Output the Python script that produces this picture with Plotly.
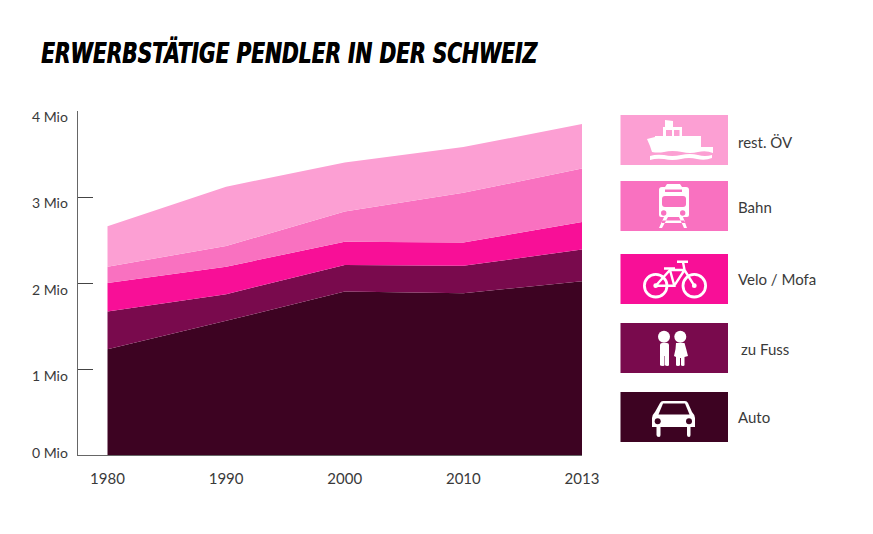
import plotly.graph_objects as go

years = ["1980", "1990", "2000", "2010", "2013"]
auto = [1.23, 1.56, 1.90, 1.88, 2.02]
zu_fuss = [0.44, 0.31, 0.31, 0.32, 0.37]
velo = [0.33, 0.32, 0.27, 0.27, 0.32]
bahn = [0.19, 0.24, 0.35, 0.58, 0.62]
rest_oev = [0.47, 0.69, 0.57, 0.53, 0.52]
tick_vals = [0, 1, 2, 3, 4]
tick_text = ["0 Mio", "1 Mio", "2 Mio", "3 Mio", "4 Mio"]
series_names = ["Auto", "zu Fuss", "Velo / Mofa", "Bahn", "rest. ÖV"]
series_values = [auto, zu_fuss, velo, bahn, rest_oev]
colors = ["#3d0322", "#790a4d", "#f80f97", "#f971c0", "#fc9fd3"]
title = "ERWERBSTÄTIGE PENDLER IN DER SCHWEIZ"

W, H = 873, 534
FONT = "Lato"
TXT = "#3a3a3a"

fig = go.Figure()
for name, vals, col in zip(series_names, series_values, colors):
    fig.add_trace(go.Scatter(x=list(range(len(years))), y=vals, name=name, mode="lines",
                             stackgroup="one", line=dict(width=0, color=col),
                             fillcolor=col, showlegend=False, hoverinfo="x+y+name"))

# invisible pixel-space axes for legend tiles and pictograms
fig.add_trace(go.Scatter(x=[0], y=[0], xaxis="x2", yaxis="y2", mode="markers",
                         marker=dict(opacity=0), showlegend=False, hoverinfo="skip"))

shapes = []
def S(path, fill="#ffffff", line=0, lc=None):
    shapes.append(dict(type="path", path=path, xref="x2", yref="y2", fillcolor=fill,
                       line=dict(width=line, color=lc or fill), layer="above"))
def circ(cx, cy, r, fill="#ffffff"):
    shapes.append(dict(type="circle", x0=cx-r, x1=cx+r, y0=cy-r, y1=cy+r, xref="x2", yref="y2",
                       fillcolor=fill, line=dict(width=0), layer="above"))
def ring(cx, cy, r, w):
    shapes.append(dict(type="circle", x0=cx-r, x1=cx+r, y0=cy-r, y1=cy+r, xref="x2", yref="y2",
                       fillcolor="rgba(0,0,0,0)", line=dict(width=w, color="#ffffff"), layer="above"))
def stroke(path, w):
    shapes.append(dict(type="path", path=path, xref="x2", yref="y2", fillcolor="rgba(0,0,0,0)",
                       line=dict(width=w, color="#ffffff"), layer="above"))

tiles = [(115, 165, 4, "rest. ÖV", 736, 142), (181, 231, 3, "Bahn", 736, 207),
         (254, 304, 2, "Velo / Mofa", 736, 279), (323, 373, 1, "zu Fuss", 739, 349),
         (392, 442, 0, "Auto", 736, 417)]
annots = []
for y0, y1, i, label, lx, ly in tiles:
    S(f"M620.5,{y0} H728 V{y1} H620.5 Z", colors[i])
    annots.append(dict(text=label, x=lx, y=ly, xref="x2", yref="y2", xanchor="left", yanchor="middle",
                       showarrow=False, font=dict(family=FONT, size=15, color=TXT)))

# ship
c = colors[4]
S("M647,139 L655,137 V136 H663 V127 H665 V120 L673,121 V127 H682 V136 H701 V147 H713 V153 "
  "Q706,150 698,152 Q690,154 682,152 Q672,150 664,152 Q658,153 652,152 L650,146 Z")
S("M650,156 Q656,154 664,155 Q672,157 681,155 Q690,153 698,155 Q705,157 712,155 V158 "
  "Q705,161 697,159 Q689,157 681,159 Q672,161 664,159 Q656,158 650,160 Z")
S("M666,130 H672 V136 H666 Z M674,130 H679.5 V136 H674 Z", c)

# train
c = colors[3]
S("M665,187 L667,184 H680 L682,187 H686 Q689,187 689,190 V215 Q689,217 687,217 H661 Q659,217 659,215 V190 Q659,187 662,187 Z")
S("M665,189.5 H682 V192 H665 Z", c)
S("M665,196 H683 Q686,196 686,199 V204 Q686,207 683,207 H665 Q662,207 662,204 V199 Q662,196 665,196 Z", c)
circ(663.7, 213, 2.7, c)
circ(682.7, 213, 2.7, c)
S("M664,217 H668 L662,228 H659 Z M679,217 H683 L687,228 H684 Z M662,220.5 H685 V223 H662 Z")

# bicycle
ring(655.7, 285.7, 11.3, 2.8)
ring(694.3, 285.7, 11.3, 2.8)
circ(655.7, 285.7, 2.4)
circ(694.3, 285.7, 2.4)
stroke("M655.7,285.7 L670,270 H684.5 L694.3,285.7 M670,270 L674.3,285.7 H655.7 M674.3,285.7 L684.5,270 M683,262 L684.5,270", 2.4)
stroke("M677,261.7 H688 M664,268.5 H675", 2.6)

# children
S("M660,345 Q660,343 662,343 H667 Q669,343 669,345 V365 Q669,366 667.5,366 Q665,366 665,365 V356 H664.5 V365 Q664.5,366 663,366 Q660,366 660,365 Z")
circ(664, 336.7, 6)
circ(680.3, 336.7, 6)
S("M676,343 H684.5 Q686,348 688,356 L684.5,357 V365 Q684.5,366 683,366 Q681,366 681,365 V358 H680 V365 Q680,366 678,366 Q676,366 676,365 V357 L674,356 Q676,349 676,343 Z")

# car
c = colors[0]
S("M663,401 H685 Q687,401 688,403 L692,412 Q695,415 695,418 V427 H690.5 V435 Q690.5,437 689,437 Q687,437 687,435 V427 H660.5 V435 "
  "Q660.5,437 659,437 Q656.5,437 656.5,435 V427 H652 V418 Q652,415 655,412 L660,403 Q661,401 663,401 Z")
S("M663,403.5 H685 L689.5,414.5 H658.5 Z", c)
circ(657.7, 421.3, 3, c)
circ(689, 421.3, 3, c)

annots.append(dict(text=f"<b><i>{title}</i></b>", x=39, y=53, xref="x2", yref="y2", xanchor="left", yanchor="middle",
                   align="left", showarrow=False,
                   font=dict(family="DejaVu Sans Condensed", size=29, color="#000000", shadow="0.7px 0 0 #000")))

# y tick labels sit below their ticks in the reference; the zero label sits slightly above
for v, t in zip(tick_vals, tick_text):
    annots.append(dict(text=t, x=70, y=v, xref="x2", yref="y", xanchor="right", yanchor="middle",
                       yshift=(3 if v == 0 else -6), showarrow=False,
                       font=dict(family=FONT, size=14, color=TXT)))

x_lo = (77.5 - 107.5) / ((582 - 107.5) / 4)
fig.update_layout(
    width=W, height=H, margin=dict(l=0, r=0, t=0, b=0), autosize=False,
    paper_bgcolor="#ffffff", plot_bgcolor="rgba(0,0,0,0)",
    font=dict(family=FONT, size=15, color=TXT),
    shapes=shapes, annotations=annots,
    xaxis=dict(automargin=False, domain=[77.5/W, 582/W], range=[x_lo, 4], tickmode="array", tickvals=list(range(len(years))),
               ticktext=years, ticks="", showgrid=False, zeroline=False, showline=True, linecolor="#666666",
               linewidth=1, ticklabelstandoff=10),
    yaxis=dict(automargin=False, domain=[(H-455)/H, (H-111)/H], range=[0, 4], tickmode="array", tickvals=tick_vals, ticktext=tick_text,
               showticklabels=False, ticks="inside", ticklen=15, tickwidth=1, tickcolor="#444444", showline=True,
               linecolor="#666666", linewidth=1, showgrid=False, zeroline=False),
    xaxis2=dict(automargin=False, domain=[0, 1], range=[0, W], visible=False, fixedrange=True, anchor="y2"),
    yaxis2=dict(automargin=False, domain=[0, 1], range=[H, 0], visible=False, fixedrange=True, anchor="x2"),
)
# the reference title face is a condensed heavy italic: squeeze the real text to its measured width
post = """
document.body.style.margin='0';
document.querySelectorAll('text.annotation-text').forEach(function(t){
  if (t.textContent.indexOf('ERWERB') === 0) {
    t.setAttribute('textLength', '496');
    t.setAttribute('lengthAdjust', 'spacingAndGlyphs');
  }
});
"""
fig.write_html("out.html", config=dict(displayModeBar=False), post_script=post)
